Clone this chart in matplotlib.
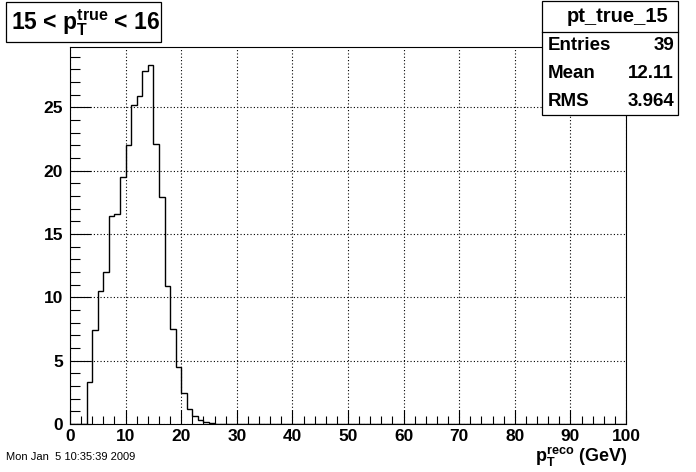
import numpy as np
import matplotlib
matplotlib.use("Agg")
import matplotlib.pyplot as plt
from matplotlib.ticker import MultipleLocator
from matplotlib.patches import Rectangle

plt.rcParams['font.family'] = ['Liberation Sans', 'DejaVu Sans']
plt.rcParams['mathtext.default'] = 'regular'

# histogram contents, 1 GeV bins starting at 0
counts_low = [0, 0, 0, 3.34, 7.42, 10.48, 11.98, 16.45, 16.56, 19.53,
              22.06, 25.17, 25.88, 27.86, 28.33, 22.14, 17.93, 10.87, 7.53, 4.48,
              2.42, 1.16, 0.63, 0.29, 0.13, 0.08, 0.02]
counts = np.zeros(100)
counts[:len(counts_low)] = counts_low
edges = np.arange(0, 101, 1)

xticks = [0, 10, 20, 30, 40, 50, 60, 70, 80, 90, 100]
yticks = [0, 5, 10, 15, 20, 25]

title_txt = "15 < p$_T^{true}$ < 16"
stat_name = "pt_true_15"
stat_rows = [("Entries", "39"), ("Mean", "12.11"), ("RMS", "3.964")]
date_txt = "Mon Jan  5 10:35:39 2009"

W, H = 696, 472
fig = plt.figure(figsize=(W / 100, H / 100), dpi=100)

def fx(x):
    return x / W

def fy(y):
    return 1 - y / H

ax = fig.add_axes([fx(70), fy(424), fx(626) - fx(70), fy(46.7) - fy(424)])
ax.stairs(counts, edges, color='black', lw=1.0)
ax.set_xlim(0, 100)
ax.set_ylim(0, 29.8)

ax.set_xticks(xticks)
ax.set_yticks(yticks)
ax.xaxis.set_minor_locator(MultipleLocator(2))
ax.yaxis.set_minor_locator(MultipleLocator(1))
ax.tick_params(which='both', direction='in', top=False, right=False, width=0.8)
ax.tick_params(axis='x', which='major', length=10, labelsize=12.5, pad=3.5)
ax.tick_params(axis='x', which='minor', length=5.5)
ax.tick_params(axis='y', which='major', length=15, labelsize=12.5, pad=5)
ax.tick_params(axis='y', which='minor', length=7.5)
for lab in ax.get_xticklabels() + ax.get_yticklabels():
    lab.set_fontweight('bold')
ax.grid(True, which='major', color='black', linestyle=(0, (1, 2)), lw=0.8)
for sp in ax.spines.values():
    sp.set_linewidth(0.8)

# exponent label mostly hidden behind the title box
fig.text(fx(66), fy(46), r"$\times$10$^{-3}$", fontsize=12, fontweight='bold',
         ha='left', va='bottom', zorder=1)

# title box
fig.patches.append(Rectangle((fx(6), fy(41.7)), fx(161) - fx(6), fy(1.7) - fy(41.7),
                             transform=fig.transFigure, facecolor='white',
                             edgecolor='black', lw=0.9, zorder=5))
fig.text(fx(11), fy(23), title_txt, fontsize=16.5, fontweight='bold',
         ha='left', va='center', zorder=6)

# stats box
fig.patches.append(Rectangle((fx(542), fy(115)), fx(678) - fx(542), fy(0.5) - fy(115),
                             transform=fig.transFigure, facecolor='white',
                             edgecolor='black', lw=0.9, zorder=5))
fig.lines.append(plt.Line2D([fx(542), fx(678)], [fy(32), fy(32)],
                            transform=fig.transFigure, color='black', lw=0.9, zorder=6))
fig.text(fx(618), fy(16.5), stat_name, fontsize=14.5, fontweight='bold',
         ha='center', va='center', zorder=6)
for i, (k, v) in enumerate(stat_rows):
    yy = fy(46 + i * 27.5)
    fig.text(fx(548), yy, k, fontsize=13.5, fontweight='bold', ha='left', va='center', zorder=6)
    fig.text(fx(674), yy, v, fontsize=13.5, fontweight='bold', ha='right', va='center', zorder=6)

# x axis title
fig.text(fx(627), fy(462), "p$_T^{reco}$ (GeV)", fontsize=13, fontweight='bold',
         ha='right', va='baseline')

fig.text(fx(6), fy(460), date_txt, fontsize=8, ha='left', va='baseline')

fig.savefig("out.png", dpi=100, facecolor='white')
